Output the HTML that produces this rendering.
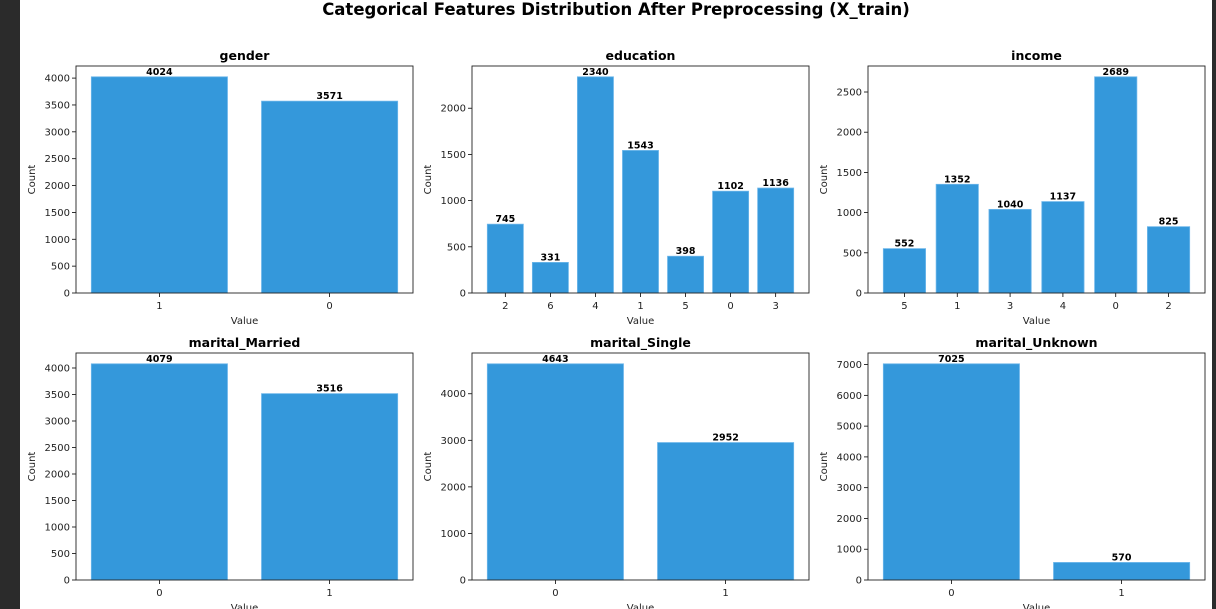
<!DOCTYPE html>
<html><head><meta charset="utf-8"><style>
html,body{margin:0;padding:0;background:#fff;}
#wrap{position:relative;width:1216px;height:609px;overflow:hidden;background:#fff;font-family:"DejaVu Sans","Liberation Sans",sans-serif;}
.strip{position:absolute;top:0;height:609px;background:#2b2b2b;}
</style></head><body>
<div id="wrap">
<div class="strip" style="left:0;width:20px"></div>
<div class="strip" style="left:1212px;width:4px"></div>
<svg id="svg" width="1216" height="609" style="position:absolute;left:0;top:0">
<text x="616" y="15" text-anchor="middle" font-size="16.5" font-weight="bold" fill="#000">Categorical Features Distribution After Preprocessing (X_train)</text>
</svg>
</div>
<script>
const titles = ["gender","education","income","marital_Married","marital_Single","marital_Unknown"];
const genderCats = ["1","0"];
const genderVals = [4024,3571];
const educationCats = ["2","6","4","1","5","0","3"];
const educationVals = [745,331,2340,1543,398,1102,1136];
const incomeCats = ["5","1","3","4","0","2"];
const incomeVals = [552,1352,1040,1137,2689,825];
const marriedCats = ["0","1"];
const marriedVals = [4079,3516];
const singleCats = ["0","1"];
const singleVals = [4643,2952];
const unknownCats = ["0","1"];
const unknownVals = [7025,570];
const yTickStep = [500,500,500,500,1000,1000];

const NS="http://www.w3.org/2000/svg";
const svg=document.getElementById('svg');
function mk(tag,attrs,parent){const e=document.createElementNS(NS,tag);for(const k in attrs)e.setAttribute(k,attrs[k]);(parent||svg).appendChild(e);return e;}
const cats=[genderCats,educationCats,incomeCats,marriedCats,singleCats,unknownCats];
const vals=[genderVals,educationVals,incomeVals,marriedVals,singleVals,unknownVals];
const colX=[76,472,868], rowY=[66,353], W=337, H=227;
for(let p=0;p<6;p++){
  const x0=colX[p%3], y0=rowY[Math.floor(p/3)];
  const g=mk('g',{});
  
  
  const c=cats[p], v=vals[p], n=c.length;
  const ymax=Math.max(...v)*1.05;
  const span=(n-1)+0.8, xmin=-0.4-span*0.05, xmax=n-1+0.4+span*0.05;
  const sx=t=>x0+(t-xmin)/(xmax-xmin)*W;
  const sy=t=>y0+H-t/ymax*H;
  for(let i=0;i<n;i++){
    const r=mk('rect',{x:sx(i-0.4),y:sy(v[i]),width:sx(i+0.4)-sx(i-0.4),height:sy(0)-sy(v[i]),fill:'#3498db',stroke:'#6cb6ea','stroke-width':0.8},g);
    
    
    const lt=mk('text',{x:sx(i),y:sy(v[i])-2,'text-anchor':'middle','font-size':9.5,'font-weight':'bold',fill:'#000'},g);
    lt.textContent=v[i];
    
    
    mk('line',{x1:sx(i),x2:sx(i),y1:y0+H,y2:y0+H+4,stroke:'#000','stroke-width':0.8},g);
    const xt=mk('text',{x:sx(i),y:y0+H+16,'text-anchor':'middle','font-size':10,fill:'#222'},g);
    xt.textContent=c[i];
    
    
  }
  const st=yTickStep[p];
  for(let t=0;t<=ymax;t+=st){
    mk('line',{x1:x0-4,x2:x0,y1:sy(t),y2:sy(t),stroke:'#000','stroke-width':0.8},g);
    const yt=mk('text',{x:x0-6,y:sy(t)+3.5,'text-anchor':'end','font-size':10,fill:'#222'},g);
    yt.textContent=t;
    
    
  }
  mk('rect',{x:x0,y:y0,width:W,height:H,fill:'none',stroke:'#222','stroke-width':0.9},g);
  const tt=mk('text',{x:x0+W/2,y:y0-6,'text-anchor':'middle','font-size':12.5,'font-weight':'bold',fill:'#000'},g);
  tt.textContent=titles[p];
  
  
  const xl=mk('text',{x:x0+W/2,y:y0+H+31,'text-anchor':'middle','font-size':10,fill:'#222'},g);
  xl.textContent='Value';
  
  
  const yl=mk('text',{x:0,y:0,'text-anchor':'middle','font-size':10,fill:'#222',transform:`translate(${x0-41},${y0+H/2}) rotate(-90)`},g);
  yl.textContent='Count';
  
  
}
</script>
</body></html>
